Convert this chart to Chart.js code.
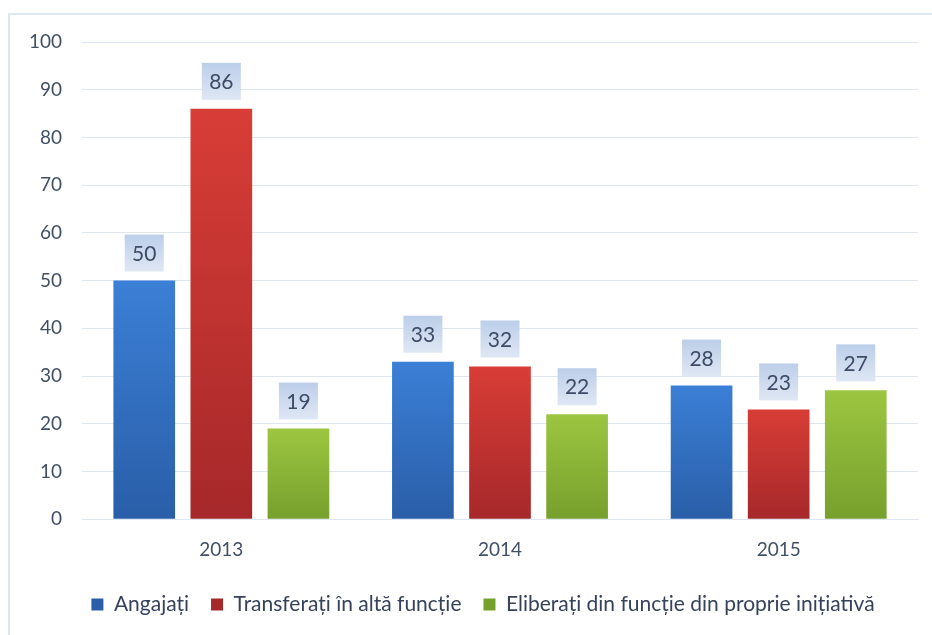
<!DOCTYPE html>
<html>
<head>
<meta charset="utf-8">
<script src="https://cdn.jsdelivr.net/npm/chart.js@4/dist/chart.umd.min.js"></script>
<style>
  html, body { margin: 0; padding: 0; background: #fff; }
  #wrap { position: relative; width: 932px; height: 635px; }
  #frame { position: absolute; left: 8px; top: 13px; right: -4px; bottom: -4px;
           border-left: 2px solid #dde7f3; border-top: 2px solid #dde7f3; }
  canvas { position: absolute; left: 0; top: 0; }
</style>
</head>
<body>
<div id="wrap">
  <div id="frame"></div>
  <canvas id="chart" width="932" height="635"></canvas>
</div>
<script>
const years = ['2013', '2014', '2015'];
const angajati = [50, 33, 28];
const transferati = [86, 32, 23];
const eliberati = [19, 22, 27];
const seriesNames = ['Angajați', 'Transferați în altă funcție', 'Eliberați din funcție din proprie inițiativă'];

// top / bottom colour of each bar gradient
const shades = [
  ['#3b7fd6', '#2a5ea8'],
  ['#d83d36', '#a6282a'],
  ['#9cc640', '#76a02c']
];

function barFill(i) {
  return function (ctx) {
    const chart = ctx.chart;
    if (!chart.chartArea || ctx.parsed == null) return shades[i][0];
    const y = chart.scales.y;
    const top = y.getPixelForValue(ctx.parsed.y);
    const bottom = y.getPixelForValue(0);
    const g = chart.ctx.createLinearGradient(0, top, 0, bottom);
    g.addColorStop(0, shades[i][0]);
    g.addColorStop(1, shades[i][1]);
    return g;
  };
}

// boxed value labels above the bars
const valueBoxes = {
  id: 'valueBoxes',
  afterDatasetsDraw(chart) {
    const c = chart.ctx;
    c.save();
    chart.data.datasets.forEach((ds, di) => {
      chart.getDatasetMeta(di).data.forEach((bar, i) => {
        const w = 39, h = 37;
        const x = bar.x - w / 2;
        const y = bar.y - 9 - h;
        const g = c.createLinearGradient(0, y, 0, y + h);
        g.addColorStop(0, '#bccee9');
        g.addColorStop(1, '#dfe7f4');
        c.fillStyle = g;
        c.fillRect(x, y, w, h);
        c.fillStyle = '#3d4b66';
        c.font = '21px Lato';
        c.textAlign = 'center';
        c.textBaseline = 'middle';
        c.fillText(ds.data[i], bar.x, y + h / 2 + 1);
      });
    });
    c.restore();
  }
};

// legend sits a little right of the canvas centre in the original
const legendShift = {
  id: 'legendShift',
  afterLayout(chart) {
    chart.legend.left += 15;
    chart.legend.right += 15;
  }
};

new Chart(document.getElementById('chart'), {
  type: 'bar',
  data: {
    labels: years,
    datasets: [
      { label: seriesNames[0], data: angajati, backgroundColor: barFill(0) },
      { label: seriesNames[1], data: transferati, backgroundColor: barFill(1) },
      { label: seriesNames[2], data: eliberati, backgroundColor: barFill(2) }
    ]
  },
  options: {
    responsive: false,
    animation: false,
    layout: { padding: { left: 18, right: 14, top: 42, bottom: 10 } },
    datasets: { bar: { categoryPercentage: 0.83, barPercentage: 0.8 } },
    scales: {
      y: {
        min: 0, max: 100,
        ticks: { stepSize: 10, color: '#415066', padding: 20, font: { family: 'Lato', size: 19 } },
        grid: { color: '#dde6f1', drawTicks: false },
        border: { display: false },
        afterFit(axis) { axis.width = 64; }
      },
      x: {
        ticks: { color: '#415066', padding: 11, font: { family: 'Lato', size: 19 } },
        grid: { display: false },
        border: { color: '#dde6f1' }
      }
    },
    plugins: {
      tooltip: { enabled: false },
      legend: {
        position: 'bottom',
        labels: {
          boxWidth: 12, boxHeight: 12, padding: 22,
          color: '#36425c', font: { family: 'Lato', size: 21 }
        }
      }
    }
  },
  plugins: [valueBoxes, legendShift]
});
</script>
</body>
</html>
